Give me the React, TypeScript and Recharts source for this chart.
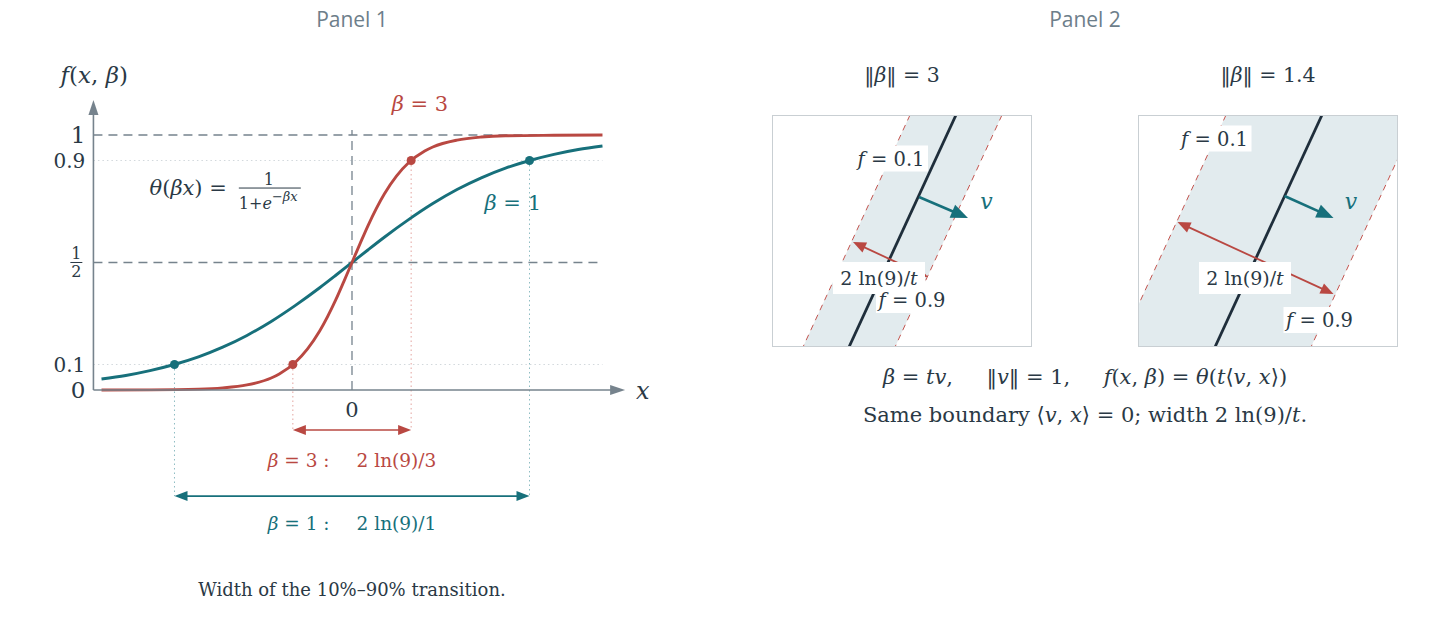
import React from 'react'
import { ComposedChart, Line, Area, XAxis, YAxis, ReferenceLine, ReferenceDot } from 'recharts'

const SERIF = '"DejaVu Serif", serif'
const SANS = '"Open Sans", sans-serif'
const INK = '#2a3945'
const GREY = '#76838d'
const TEAL = '#17707b'
const RED = '#b94842'
const BAND = '#e2ebee'

// panel 1: the two logistic curves
const xs1 = [-3.1, -2.8, -2.5, -2.2, -1.9, -1.6, -1.3, -1.0, -0.7, -0.4, -0.2, 0, 0.2, 0.4, 0.7, 1.0, 1.3, 1.6, 1.9, 2.2, 2.5, 2.8, 3.1]
const beta1 = [0.043, 0.057, 0.076, 0.1, 0.13, 0.168, 0.214, 0.269, 0.332, 0.401, 0.45, 0.5, 0.55, 0.599, 0.668, 0.731, 0.786, 0.832, 0.87, 0.9, 0.924, 0.943, 0.957]
const xs3 = [-3.1, -2.5, -1.9, -1.6, -1.3, -1.0, -0.9, -0.7, -0.55, -0.4, -0.2, -0.1, 0, 0.1, 0.2, 0.4, 0.55, 0.7, 0.9, 1.0, 1.3, 1.6, 1.9, 2.5, 3.1]
const beta3 = [0.0001, 0.0006, 0.0033, 0.0082, 0.0198, 0.047, 0.063, 0.109, 0.161, 0.231, 0.354, 0.426, 0.5, 0.574, 0.646, 0.769, 0.839, 0.891, 0.937, 0.953, 0.98, 0.992, 0.997, 0.999, 1.0]

// 10% / 90% crossing points
const cross1 = [-2.197, 2.197]
const cross3 = [-0.732, 0.732]
const crossLevels = [0.1, 0.9]

const yTickValues = [1, 0.9, 0.1, 0]
const yTickLabels = ['1', '0.9', '0.1', '0']

// panel 2: boundary and band edges (x where they cross box top / bottom)
const boxNorms = ['3', '1.4']
const boxLeft = [772, 1138]
const boxYs = [1.16, -1.16]
const boundaryX = [0.54, -0.53]
const edgeShift = [0.46, 0.96]
const vArrows = [
  [[0.17, 0.34], [0.66, 0.13]],
  [[0.165, 0.35], [0.655, 0.13]],
]
const widthArrows = [
  [[-0.49, -0.11], [0.26, -0.46]],
  [[-0.905, 0.09], [0.655, -0.63]],
]
const f01Pos = [[-0.11, 0.725], [-0.535, 0.925]]
const f09Pos = [[0.1, -0.69], [0.515, -0.89]]
const widthLabelPos = [[-0.23, -0.47], [-0.23, -0.47]]
const vLabelPos = [[0.845, 0.3], [0.83, 0.3]]

const curve1 = xs1.map((x, i) => ({ x, y: beta1[i] }))
const curve3 = xs3.map((x, i) => ({ x, y: beta3[i] }))

function arrowShape(color: string, width: number, both: boolean, head = 12, half = 5) {
  return (p: any) => {
    const { x1, y1, x2, y2 } = p
    const dx = x2 - x1, dy = y2 - y1
    const L = Math.hypot(dx, dy) || 1
    const ux = dx / L, uy = dy / L
    const tri = (tx: number, ty: number, sx: number, sy: number) => {
      const bx = tx - sx * head, by = ty - sy * head
      return `${tx},${ty} ${bx - sy * half},${by + sx * half} ${bx + sy * half},${by - sx * half}`
    }
    return (
      <g>
        <line
          x1={both ? x1 + ux * head * 0.7 : x1} y1={both ? y1 + uy * head * 0.7 : y1}
          x2={x2 - ux * head * 0.7} y2={y2 - uy * head * 0.7}
          stroke={color} strokeWidth={width}
        />
        <polygon points={tri(x2, y2, ux, uy)} fill={color} />
        {both && <polygon points={tri(x1, y1, -ux, -uy)} fill={color} />}
      </g>
    )
  }
}

type TextOpts = { size?: number; fill?: string; anchor?: 'start' | 'middle' | 'end'; bg?: [number, number] }

function textShape(node: React.ReactNode, o: TextOpts = {}) {
  return (p: any) => (
    <g>
      {o.bg && <rect x={p.cx - o.bg[0] / 2} y={p.cy - o.bg[1] / 2} width={o.bg[0]} height={o.bg[1]} fill="#fff" />}
      <text x={p.cx} y={p.cy} dy="0.36em" textAnchor={o.anchor ?? 'middle'} fontSize={o.size ?? 18}
        fill={o.fill ?? INK} fontFamily={SERIF}>{node}</text>
    </g>
  )
}

const I = ({ children }: { children: React.ReactNode }) => <tspan fontStyle="italic">{children}</tspan>

const halfShape = (p: any) => (
  <g fontFamily={SERIF} fill={INK} fontSize={16} textAnchor="middle">
    <text x={p.cx - 9} y={p.cy - 3}>1</text>
    <line x1={p.cx - 15} x2={p.cx - 3} y1={p.cy} y2={p.cy} stroke={INK} strokeWidth={1} />
    <text x={p.cx - 9} y={p.cy + 15}>2</text>
  </g>
)

const thetaShape = (p: any) => (
  <g fontFamily={SERIF} fill={INK}>
    <text x={p.cx - 8} y={p.cy + 7} fontSize={21} textAnchor="end">
      <I>θ</I>(<I>βx</I>) =
    </text>
    <text x={p.cx + 34} y={p.cy - 3} fontSize={16} textAnchor="middle">1</text>
    <line x1={p.cx + 4} x2={p.cx + 66} y1={p.cy} y2={p.cy} stroke={INK} strokeWidth={1} />
    <text x={p.cx + 4} y={p.cy + 21} fontSize={16}>
      1+<I>e</I><tspan dy={-8} fontSize={13}>−<I>βx</I></tspan>
    </text>
  </g>
)

function Note({ x, y, size = 18, color = INK, family = SERIF, children }:
  { x: number; y: number; size?: number; color?: string; family?: string; children: React.ReactNode }) {
  return (
    <div style={{
      position: 'absolute', left: x, top: y, transform: 'translate(-50%, -50%)',
      whiteSpace: 'pre', fontSize: size, color, fontFamily: family, lineHeight: 1,
    }}>{children}</div>
  )
}

const Em = ({ children }: { children: React.ReactNode }) => <span style={{ fontStyle: 'italic' }}>{children}</span>

function SigmoidPanel() {
  const dotted = { strokeDasharray: '1.5 3', strokeWidth: 1 }
  return (
    <div style={{ position: 'absolute', left: 0, top: 0 }}>
      <ComposedChart width={720} height={631} margin={{ top: 0, right: 0, bottom: 0, left: 0 }}>
        <XAxis type="number" dataKey="x" domain={[-4.3564, 4.5545]} hide allowDataOverflow />
        <YAxis type="number" dataKey="y" domain={[-0.9451, 1.5294]} hide allowDataOverflow />

        {crossLevels.map(l => (
          <ReferenceLine key={`g${l}`} segment={[{ x: -3.2, y: l }, { x: 3.1, y: l }]} stroke="#d2d8dc" {...dotted} />
        ))}
        <ReferenceLine segment={[{ x: -3.2, y: 1 }, { x: 3.1, y: 1 }]} stroke={GREY} strokeDasharray="9 6" strokeWidth={1.3} />
        <ReferenceLine segment={[{ x: -3.2, y: 0.5 }, { x: 3.1, y: 0.5 }]} stroke={GREY} strokeDasharray="9 6" strokeWidth={1.3} />
        <ReferenceLine segment={[{ x: 0, y: 0 }, { x: 0, y: 1.02 }]} stroke={GREY} strokeDasharray="9 6" strokeWidth={1.3} />

        {cross3.map((x, i) => (
          <ReferenceLine key={`r${i}`} segment={[{ x, y: crossLevels[i] }, { x, y: -0.157 }]} stroke="#e3a29d" {...dotted} />
        ))}
        {cross1.map((x, i) => (
          <ReferenceLine key={`t${i}`} segment={[{ x, y: crossLevels[i] }, { x, y: -0.416 }]} stroke="#8dbcc2" {...dotted} />
        ))}

        <Line data={curve1} dataKey="y" type="monotone" stroke={TEAL} strokeWidth={2.9} dot={false} activeDot={false} isAnimationActive={false} />
        <Line data={curve3} dataKey="y" type="monotone" stroke={RED} strokeWidth={2.9} dot={false} activeDot={false} isAnimationActive={false} />

        {cross1.map((x, i) => <ReferenceDot key={`d1${i}`} x={x} y={crossLevels[i]} r={4.5} fill={TEAL} stroke="none" />)}
        {cross3.map((x, i) => <ReferenceDot key={`d3${i}`} x={x} y={crossLevels[i]} r={4.5} fill={RED} stroke="none" />)}

        <ReferenceLine segment={[{ x: -3.2, y: 0 }, { x: -3.2, y: 1.137 }]} shape={arrowShape(GREY, 1.6, false, 15, 5)} />
        <ReferenceLine segment={[{ x: -3.2, y: 0 }, { x: 3.38, y: 0 }]} shape={arrowShape(GREY, 1.6, false, 15, 5)} />

        <ReferenceLine segment={[{ x: cross3[0], y: -0.157 }, { x: cross3[1], y: -0.157 }]} shape={arrowShape(RED, 1.6, true, 13, 5)} />
        <ReferenceLine segment={[{ x: cross1[0], y: -0.416 }, { x: cross1[1], y: -0.416 }]} shape={arrowShape(TEAL, 1.6, true, 13, 5)} />

        {yTickValues.map((v, i) => (
          <ReferenceDot key={`yt${v}`} x={-3.3} y={v} ifOverflow="visible"
            shape={textShape(yTickLabels[i], { anchor: 'end', size: v === 1 || v === 0 ? 23 : 20 })} />
        ))}
        <ReferenceDot x={-3.3} y={0.5} ifOverflow="visible" shape={halfShape} />
        <ReferenceDot x={0} y={-0.078} ifOverflow="visible" shape={textShape('0', { size: 21 })} />
        <ReferenceDot x={3.6} y={0} ifOverflow="visible" shape={textShape(<I>x</I>, { size: 24 })} />

        <ReferenceDot x={-3.19} y={1.235} ifOverflow="visible"
          shape={textShape(<><I>f</I>(<I>x</I>, <I>β</I>)</>, { size: 23 })} />
        <ReferenceDot x={0.84} y={1.125} ifOverflow="visible"
          shape={textShape(<><I>β</I> = 3</>, { size: 21, fill: RED })} />
        <ReferenceDot x={1.99} y={0.737} ifOverflow="visible"
          shape={textShape(<><I>β</I> = 1</>, { size: 21, fill: TEAL })} />
        <ReferenceDot x={-1.45} y={0.792} ifOverflow="visible" shape={thetaShape} />

        <ReferenceDot x={0} y={-0.275} ifOverflow="visible"
          shape={textShape(<><I>β</I> = 3 :<tspan dx={27}>2 ln(9)/3</tspan></>, { size: 18.5, fill: RED })} />
        <ReferenceDot x={0} y={-0.522} ifOverflow="visible"
          shape={textShape(<><I>β</I> = 1 :<tspan dx={27}>2 ln(9)/1</tspan></>, { size: 18.5, fill: TEAL })} />
        <ReferenceDot x={0} y={-0.784} ifOverflow="visible"
          shape={textShape('Width of the 10%–90% transition.', { size: 18 })} />
      </ComposedChart>
    </div>
  )
}

function BandBox({ i }: { i: number }) {
  const data = boxYs.map((y, k) => {
    const mid = boundaryX[k]
    return { y, mid, lo: mid - edgeShift[i], hi: mid + edgeShift[i], band: [mid - edgeShift[i], mid + edgeShift[i]] }
  })
  const [va, vb] = vArrows[i]
  const [wa, wb] = widthArrows[i]
  return (
    <div style={{ position: 'absolute', left: boxLeft[i] - 1, top: 114, width: 262, height: 234 }}>
      <ComposedChart layout="vertical" width={262} height={234} data={data} margin={{ top: 1, right: 1, bottom: 1, left: 1 }}>
        <XAxis type="number" domain={[-1.3, 1.3]} hide allowDataOverflow />
        <YAxis type="number" dataKey="y" domain={[-1.16, 1.16]} hide allowDataOverflow reversed />
        <Area dataKey="band" type="linear" fill={BAND} fillOpacity={1} stroke="none" activeDot={false} isAnimationActive={false} />
        <Line dataKey="lo" type="linear" stroke="#c4554f" strokeWidth={1} strokeDasharray="6 5" dot={false} activeDot={false} isAnimationActive={false} />
        <Line dataKey="hi" type="linear" stroke="#c4554f" strokeWidth={1} strokeDasharray="6 5" dot={false} activeDot={false} isAnimationActive={false} />
        <Line dataKey="mid" type="linear" stroke="#1f2e3b" strokeWidth={2.8} dot={false} activeDot={false} isAnimationActive={false} />

        <ReferenceLine segment={[{ x: va[0], y: va[1] }, { x: vb[0], y: vb[1] }]} shape={arrowShape(TEAL, 2.6, false, 17, 7)} />
        <ReferenceLine segment={[{ x: wa[0], y: wa[1] }, { x: wb[0], y: wb[1] }]} shape={arrowShape(RED, 1.8, true, 13, 5.5)} />

        <ReferenceDot x={vLabelPos[i][0]} y={vLabelPos[i][1]} ifOverflow="visible"
          shape={textShape(<I>v</I>, { size: 22, fill: TEAL })} />
        <ReferenceDot x={f01Pos[i][0]} y={f01Pos[i][1]} ifOverflow="visible"
          shape={textShape(<><I>f</I> = 0.1</>, { size: 19.5, bg: [74, 26] })} />
        <ReferenceDot x={widthLabelPos[i][0]} y={widthLabelPos[i][1]} ifOverflow="visible"
          shape={textShape(<>2 ln(9)/<I>t</I></>, { size: 19, bg: [92, 32] })} />
        <ReferenceDot x={f09Pos[i][0]} y={f09Pos[i][1]} ifOverflow="visible"
          shape={textShape(<><I>f</I> = 0.9</>, { size: 19.5, bg: [72, 26] })} />
      </ComposedChart>
      <div style={{ position: 'absolute', left: 0.5, top: 0.5, width: 260, height: 232, border: '1px solid #c9cfd3', boxSizing: 'border-box', pointerEvents: 'none' }} />
    </div>
  )
}

export default function App() {
  return (
    <div style={{ position: 'absolute', left: 0, top: 0, width: 1439, height: 631, background: '#fff' }}>
      <Note x={352} y={19} size={21} color="#6d7e8a" family={SANS}>Panel 1</Note>
      <Note x={1085} y={19} size={21} color="#6d7e8a" family={SANS}>Panel 2</Note>
      <SigmoidPanel />
      {boxNorms.map((n, i) => (
        <Note key={n} x={boxLeft[i] + 130} y={75} size={20.5}>‖<Em>β</Em>‖ = {n}</Note>
      ))}
      {boxNorms.map((n, i) => <BandBox key={n} i={i} />)}
      <Note x={1085} y={377} size={21}>
        <Em>β</Em> = <Em>tv</Em>,     ‖<Em>v</Em>‖ = 1,     <Em>f</Em>(<Em>x</Em>, <Em>β</Em>) = <Em>θ</Em>(<Em>t</Em>⟨<Em>v</Em>, <Em>x</Em>⟩)
      </Note>
      <Note x={1085} y={415} size={21}>
        Same boundary ⟨<Em>v</Em>, <Em>x</Em>⟩ = 0; width 2 ln(9)/<Em>t</Em>.
      </Note>
    </div>
  )
}
